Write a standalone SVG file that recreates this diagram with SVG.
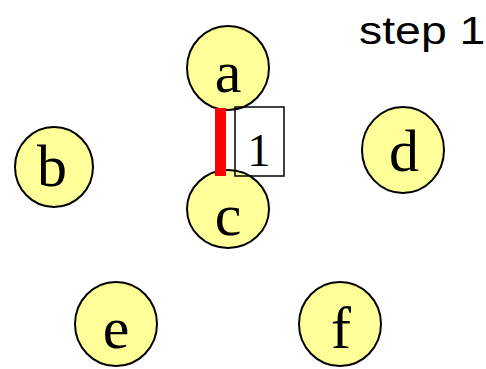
<svg xmlns="http://www.w3.org/2000/svg" width="486" height="369" viewBox="0 0 486 369">
<style>
.node ellipse{fill:#FFFF99;stroke:#000;stroke-width:2}
.node text{font-family:"Liberation Serif","Times New Roman",serif;font-size:60px;text-anchor:middle;fill:#000}
.edge{stroke:#FF0000;stroke-width:11;fill:none}
.wbox{fill:none;stroke:#000;stroke-width:1.5}
.wlabel{font-family:"Liberation Serif","Times New Roman",serif;font-size:46px;text-anchor:middle;fill:#000}
.title{font-family:"Liberation Sans",Arial,sans-serif;font-size:39px;fill:#000}
</style>
<rect width="486" height="369" fill="#fff"/>
<text class="title" transform="translate(359,44) scale(1.19,1)">step 1</text>
<g id="node-c" class="node"><ellipse cx="228" cy="209" rx="41" ry="39"/><text x="228" y="235">c</text></g>
<g id="node-a" class="node"><ellipse cx="228" cy="68" rx="41" ry="42"/><text x="228" y="92">a</text></g>
<g id="node-b" class="node"><ellipse cx="54" cy="167" rx="39" ry="40"/><text x="52" y="186">b</text></g>
<g id="node-d" class="node"><ellipse cx="403" cy="150" rx="41" ry="43"/><text x="404" y="171">d</text></g>
<g id="node-e" class="node"><ellipse cx="116" cy="324" rx="41" ry="42"/><text x="116" y="348">e</text></g>
<g id="node-f" class="node"><ellipse cx="340" cy="324" rx="41" ry="42"/><text x="341" y="348">f</text></g>
<g id="connectors">
<line class="edge" x1="220.5" y1="108" x2="220.5" y2="176"/>
<rect class="wbox" x="235" y="107" width="49" height="69"/>
<text class="wlabel" x="259" y="166">1</text>
</g>
</svg>
